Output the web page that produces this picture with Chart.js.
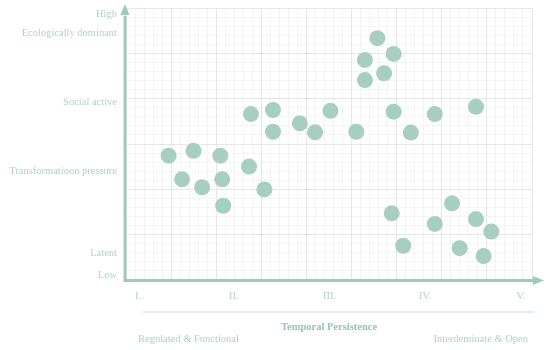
<!DOCTYPE html>
<html lang="en">
<head>
<meta charset="UTF-8">
<title>Temporal Persistence</title>
<script src="https://cdn.jsdelivr.net/npm/chart.js"></script>
<style>
  body { margin: 0; background: #fff; }
  .chart-box { width: 550px; height: 350px; }
</style>
</head>
<body>
<div class="chart-box"><canvas id="persistenceChart"></canvas></div>
<script>
// tick labels
const xTickLabels = ['I.', 'II.', 'III.', 'IV.', 'V.'];
const xTickValues = [1, 2, 3, 4, 5];
const yTickLabels = ['Low', 'Latent', 'Transformatioon pressure', 'Social active', 'Ecologically dominant', 'High'];
const yTickValues = [1.6, 10, 39.8, 65.4, 90.8, 97.8];
const xAxisTitle = 'Temporal Persistence';
const xEndLabels = ['Regulated & Functional', 'Interdeminate & Open'];

// points (x in I..V units, y on 0..100)
const pointX = [
    1.32, 1.58, 1.86, 2.16, 1.46, 1.67, 1.88, 2.32, 1.89,
    2.18, 2.41, 2.41, 2.69, 2.85, 3.01, 3.28, 3.67, 3.85, 4.10, 4.53,
    3.50, 3.37, 3.67, 3.37, 3.57,
    3.65, 3.77, 4.10, 4.28, 4.53, 4.69, 4.36, 4.61
];
const pointY = [
    45.7, 47.5, 45.7, 41.7, 37.0, 34.1, 37.0, 33.3, 27.3,
    61.0, 62.5, 54.5, 57.6, 54.3, 62.2, 54.5, 61.9, 54.2, 61.0, 63.7,
    88.9, 80.9, 83.1, 73.5, 76.0,
    24.5, 12.6, 20.6, 28.2, 22.4, 17.8, 11.7, 8.8
];

const axisColor = '#9fcbbc';
const textColor = '#aed3c6';
const dotColor = '#a8cec1';

Chart.defaults.font.family = '"Liberation Serif", serif';
Chart.defaults.font.size = 10.5;
Chart.defaults.color = textColor;

const axisDecor = {
    id: 'axisDecor',
    afterDatasetsDraw(chart) {
        const { ctx, chartArea: a } = chart;
        const x0 = a.left - 1;
        const y0 = a.bottom + 0.5;
        ctx.save();
        ctx.strokeStyle = axisColor;
        ctx.fillStyle = axisColor;
        ctx.lineWidth = 3;
        ctx.beginPath();
        ctx.moveTo(x0, y0);
        ctx.lineTo(x0, a.top + 8);
        ctx.moveTo(x0 - 1.5, y0);
        ctx.lineTo(a.right + 4, y0);
        ctx.stroke();
        // arrow heads
        ctx.beginPath();
        ctx.moveTo(x0, a.top - 4);
        ctx.lineTo(x0 - 4.5, a.top + 7);
        ctx.lineTo(x0 + 4.5, a.top + 7);
        ctx.closePath();
        ctx.fill();
        ctx.beginPath();
        ctx.moveTo(a.right + 12, y0);
        ctx.lineTo(a.right + 1, y0 - 4.5);
        ctx.lineTo(a.right + 1, y0 + 4.5);
        ctx.closePath();
        ctx.fill();
        // separator under tick labels
        ctx.strokeStyle = '#d3e8e0';
        ctx.lineWidth = 1.5;
        ctx.beginPath();
        ctx.moveTo(a.left + 17, 312);
        ctx.lineTo(a.right + 3, 312);
        ctx.stroke();
        // end labels
        ctx.fillStyle = textColor;
        ctx.font = '10.5px "Liberation Serif", serif';
        ctx.textBaseline = 'middle';
        ctx.textAlign = 'left';
        ctx.fillText(xEndLabels[0], a.left + 12, 339);
        ctx.textAlign = 'right';
        ctx.fillText(xEndLabels[1], a.right - 4, 339);
        ctx.restore();
    }
};

function gridAxis(position, max, color, z) {
    return {
        type: 'linear',
        position: position,
        min: 0,
        max: max,
        z: z,
        afterBuildTicks: s => { s.ticks = Array.from({ length: max + 1 }, (_, i) => ({ value: i })); },
        afterFit: s => { if (s.isHorizontal()) s.height = 0; else s.width = 0; },
        ticks: { display: false },
        grid: { color: color, lineWidth: 1, drawTicks: false },
        border: { display: false }
    };
}

new Chart(document.getElementById('persistenceChart'), {
    type: 'scatter',
    data: {
        datasets: [{
            data: pointX.map((x, i) => ({ x: x, y: pointY[i] })),
            backgroundColor: dotColor,
            borderWidth: 0,
            pointRadius: 8,
            pointHoverRadius: 8
        }]
    },
    plugins: [axisDecor],
    options: {
        responsive: true,
        maintainAspectRatio: false,
        animation: false,
        events: [],
        layout: { padding: { top: 8, right: 18, left: 0, bottom: 0 } },
        plugins: { legend: { display: false }, tooltip: { enabled: false } },
        scales: {
            x: {
                type: 'linear',
                min: 0.875,
                max: 5.115,
                afterBuildTicks: s => { s.ticks = xTickValues.map(v => ({ value: v })); },
                afterFit: s => { s.height = 70; },
                ticks: {
                    autoSkip: false,
                    maxRotation: 0,
                    padding: 10,
                    callback: (v, i) => xTickLabels[i]
                },
                grid: { display: false, drawTicks: false },
                border: { display: false },
                title: {
                    display: true,
                    text: xAxisTitle,
                    color: '#95c3b3',
                    font: { size: 10.5, weight: 'bold' },
                    padding: { top: 0, bottom: 16 }
                }
            },
            y: {
                type: 'linear',
                min: 0,
                max: 100,
                afterBuildTicks: s => { s.ticks = yTickValues.map(v => ({ value: v })); },
                afterFit: s => { s.width = 126; s.paddingTop = 0; s.paddingBottom = 0; },
                ticks: {
                    autoSkip: false,
                    padding: 9,
                    callback: (v, i) => yTickLabels[i]
                },
                grid: { display: false, drawTicks: false },
                border: { display: false }
            },
            gxm: gridAxis('bottom', 45, '#f4f4f4', -2),
            gym: gridAxis('left', 30, '#f4f4f4', -2),
            gx: gridAxis('bottom', 9, '#e6e6e6', -1),
            gy: gridAxis('left', 6, '#e6e6e6', -1)
        }
    }
});
</script>
</body>
</html>
